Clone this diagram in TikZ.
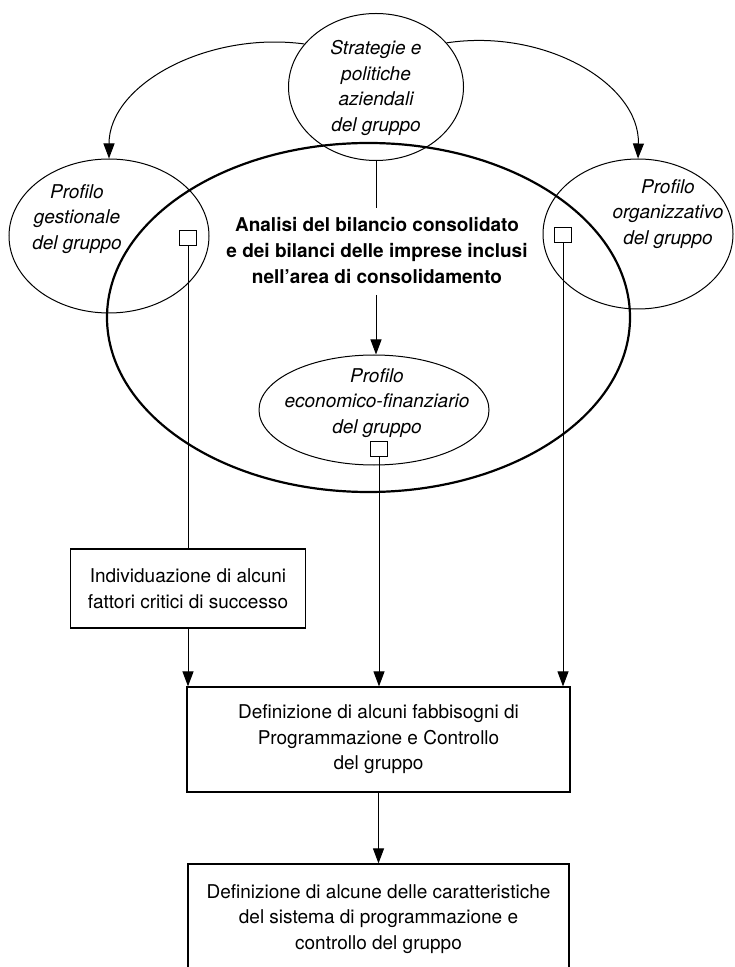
\documentclass[tikz,border=0pt]{standalone}
\usepackage{fontspec}
\setmainfont{TeX Gyre Heros}
\usetikzlibrary{shapes.geometric,arrows.meta}
\tikzset{
  bubble/.style={ellipse, draw, line width=0.5pt, inner sep=0pt},
  txt/.style={align=center, inner sep=0pt, font=\fontsize{9.5}{12.75}\selectfont},
  itxt/.style={txt, font=\fontsize{9.5}{12.75}\selectfont\itshape},
  boxnode/.style={draw, line width=0.6pt, inner sep=0pt, align=center, font=\fontsize{9.5}{12.75}\selectfont},
  sq/.style={draw, line width=0.5pt, minimum width=8.5pt, minimum height=7.5pt, inner sep=0pt},
  thin line/.style={line width=0.5pt},
  arr/.style={line width=0.5pt, -{Triangle[length=7.5pt,width=5.5pt]}}
}
\begin{document}
\begin{tikzpicture}[x=0.5pt,y=-0.5pt]
\useasboundingbox (0,0) rectangle (734,967);
\node[bubble, minimum width=87.5pt, minimum height=73.5pt] (strat) at (376,87) {};
\node[bubble, line width=1.1pt, minimum width=261.5pt, minimum height=174.5pt] (bil) at (368.5,317.5) {};
\node[bubble, minimum width=100pt, minimum height=77pt] (gest) at (109,236) {};
\node[bubble, minimum width=95pt, minimum height=75pt] (org) at (638,234) {};
\node[bubble, minimum width=115pt, minimum height=55pt] (econ) at (374,410) {};
\node[itxt] (strattxt) at (376,88) {Strategie e\\politiche\\aziendali\\del gruppo};
\node[itxt] (gesttxt) at (77,219) {Profilo\\gestionale\\del gruppo};
\node[itxt] (orgtxt) at (668,214) {Profilo\\organizzativo\\del gruppo};
\node[itxt] (econtxt) at (377,403) {Profilo\\economico-finanziario\\del gruppo};
\node[txt, font=\fontsize{9.5}{13}\selectfont\bfseries] (biltxt) at (377,251) {Analisi del bilancio consolidato\\e dei bilanci delle imprese inclusi\\nell'area di consolidamento};
\node[sq] (sqg) at (188,238) {};
\node[sq] (sqo) at (563,235) {};
\node[sq] (sqe) at (379,449) {};
\node[boxnode, minimum width=117.5pt, minimum height=39.5pt] (indiv) at (188,588.5) {Individuazione di alcuni\\fattori critici di successo};
\node[boxnode, minimum width=191.5pt, minimum height=52.5pt] (defin) at (378.5,739.5) {Definizione di alcuni fabbisogni di\\Programmazione e Controllo\\del gruppo};
\node[boxnode, minimum width=190.5pt, minimum height=55pt] (caratt) at (378.5,919) {Definizione di alcune delle caratteristiche\\del sistema di programmazione e\\controllo del gruppo};
\coordinate (stratend) at (376,208);
\coordinate (econin) at (376,295);
\draw[thin line] (strat.south) -- (stratend);
\draw[arr] (econin) -- (econin |- econ.north);
\draw[arr] (strat.149) .. controls (208,31) and (109,84) .. (gest.north);
\draw[arr] (strat.32) .. controls (545,28) and (640,84) .. (org.north);
\draw[thin line] (sqg.south) -- (sqg.south |- indiv.north);
\draw[arr] (indiv.south) -- (indiv.south |- defin.north);
\draw[arr] (sqe.south) -- (sqe.south |- defin.north);
\draw[arr] (sqo.south) -- (sqo.south |- defin.north);
\draw[arr] (defin.south) -- (caratt.north);
\end{tikzpicture}
\end{document}
